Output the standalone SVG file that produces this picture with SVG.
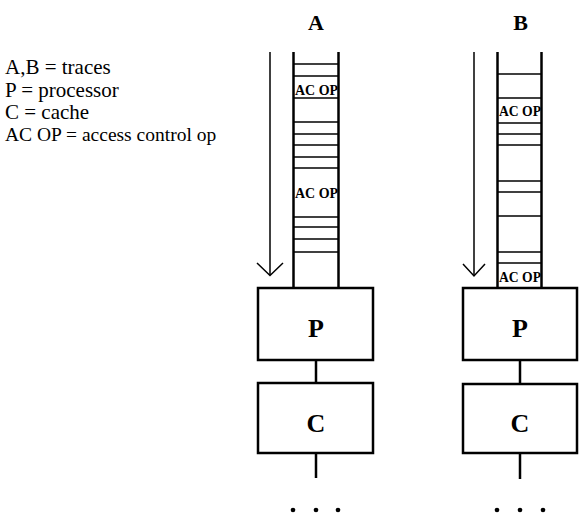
<svg xmlns="http://www.w3.org/2000/svg" width="580" height="515" viewBox="0 0 580 515">
<style>
.leg{font-family:"Liberation Serif",serif;font-size:21px;fill:#000}
.ttl{font-family:"Liberation Serif",serif;font-size:22px;font-weight:bold;fill:#000;text-anchor:middle}
.box{fill:#fff;stroke:#000;stroke-width:2.5}
.lbl{font-family:"Liberation Serif",serif;font-size:26px;font-weight:bold;fill:#000;text-anchor:middle}
.rail{stroke:#000;stroke-width:2.5;fill:none}
.rung{stroke:#000;stroke-width:1.5;fill:none}
.ac{font-family:"Liberation Serif",serif;font-size:14px;font-weight:bold;fill:#000}
.arr{stroke:#000;stroke-width:1.5;fill:none}
.wire{stroke:#000;stroke-width:2.5;fill:none}
</style>
<rect width="580" height="515" fill="#fff"/>
<g id="legend">
<text class="leg" x="5" y="74">A,B = traces</text>
<text class="leg" x="5" y="96.5">P = processor</text>
<text class="leg" x="5" y="119">C = cache</text>
<text class="leg" x="5" y="141" style="font-size:19.5px">AC OP = access control op</text>
</g>
<g id="traceA">
<text class="ttl" x="316" y="30">A</text>
<line class="rail" x1="293.5" y1="52" x2="293.5" y2="288"/>
<line class="rail" x1="338.5" y1="52" x2="338.5" y2="288"/>
<g class="rung">
<line x1="293.5" y1="64" x2="338.5" y2="64"/>
<line x1="293.5" y1="76" x2="338.5" y2="76"/>
<line x1="293.5" y1="98" x2="338.5" y2="98"/>
<line x1="293.5" y1="122" x2="338.5" y2="122"/>
<line x1="293.5" y1="134" x2="338.5" y2="134"/>
<line x1="293.5" y1="145" x2="338.5" y2="145"/>
<line x1="293.5" y1="157" x2="338.5" y2="157"/>
<line x1="293.5" y1="168" x2="338.5" y2="168"/>
<line x1="293.5" y1="217" x2="338.5" y2="217"/>
<line x1="293.5" y1="227" x2="338.5" y2="227"/>
<line x1="293.5" y1="239" x2="338.5" y2="239"/>
<line x1="293.5" y1="252" x2="338.5" y2="252"/>
</g>
<text class="ac" x="295" y="95" textLength="43" lengthAdjust="spacingAndGlyphs">AC OP</text>
<text class="ac" x="295" y="198" textLength="43" lengthAdjust="spacingAndGlyphs">AC OP</text>
<line class="arr" x1="270" y1="52" x2="270" y2="275"/>
<polyline class="arr" points="257,263 270,275.5 283,263"/>
</g>
<g id="traceB">
<text class="ttl" x="520.5" y="30">B</text>
<line class="rail" x1="497.5" y1="52" x2="497.5" y2="288"/>
<line class="rail" x1="541.5" y1="52" x2="541.5" y2="288"/>
<g class="rung">
<line x1="497.5" y1="74" x2="541.5" y2="74"/>
<line x1="497.5" y1="98" x2="541.5" y2="98"/>
<line x1="497.5" y1="123" x2="541.5" y2="123"/>
<line x1="497.5" y1="134" x2="541.5" y2="134"/>
<line x1="497.5" y1="145" x2="541.5" y2="145"/>
<line x1="497.5" y1="181" x2="541.5" y2="181"/>
<line x1="497.5" y1="192" x2="541.5" y2="192"/>
<line x1="497.5" y1="216" x2="541.5" y2="216"/>
<line x1="497.5" y1="252" x2="541.5" y2="252"/>
<line x1="497.5" y1="263" x2="541.5" y2="263"/>
</g>
<text class="ac" x="499" y="116" textLength="42" lengthAdjust="spacingAndGlyphs">AC OP</text>
<text class="ac" x="499" y="282" textLength="42" lengthAdjust="spacingAndGlyphs">AC OP</text>
<line class="arr" x1="474" y1="52" x2="474" y2="276"/>
<polyline class="arr" points="463,264 474,276 485,264"/>
</g>
<g id="connectors">
<line class="wire" x1="316" y1="360" x2="316" y2="383"/>
<line class="wire" x1="316" y1="453" x2="316" y2="478"/>
<line class="wire" x1="520" y1="360" x2="520" y2="384"/>
<line class="wire" x1="520" y1="453" x2="520" y2="479"/>
</g>
<g id="PA"><rect class="box" x="258" y="288" width="115" height="72"/><text class="lbl" x="316" y="337">P</text></g>
<g id="CA"><rect class="box" x="258" y="383" width="115" height="70"/><text class="lbl" x="316" y="432">C</text></g>
<g id="PB"><rect class="box" x="463" y="288" width="114" height="72"/><text class="lbl" x="520" y="337">P</text></g>
<g id="CB"><rect class="box" x="463" y="384" width="114" height="69"/><text class="lbl" x="520" y="432">C</text></g>
<g id="dots" fill="#000">
<circle cx="293" cy="510" r="2.3"/><circle cx="316" cy="510" r="2.3"/><circle cx="338" cy="510" r="2.3"/>
<circle cx="497" cy="510" r="2.3"/><circle cx="520" cy="510" r="2.3"/><circle cx="543" cy="510" r="2.3"/>
</g>
</svg>
